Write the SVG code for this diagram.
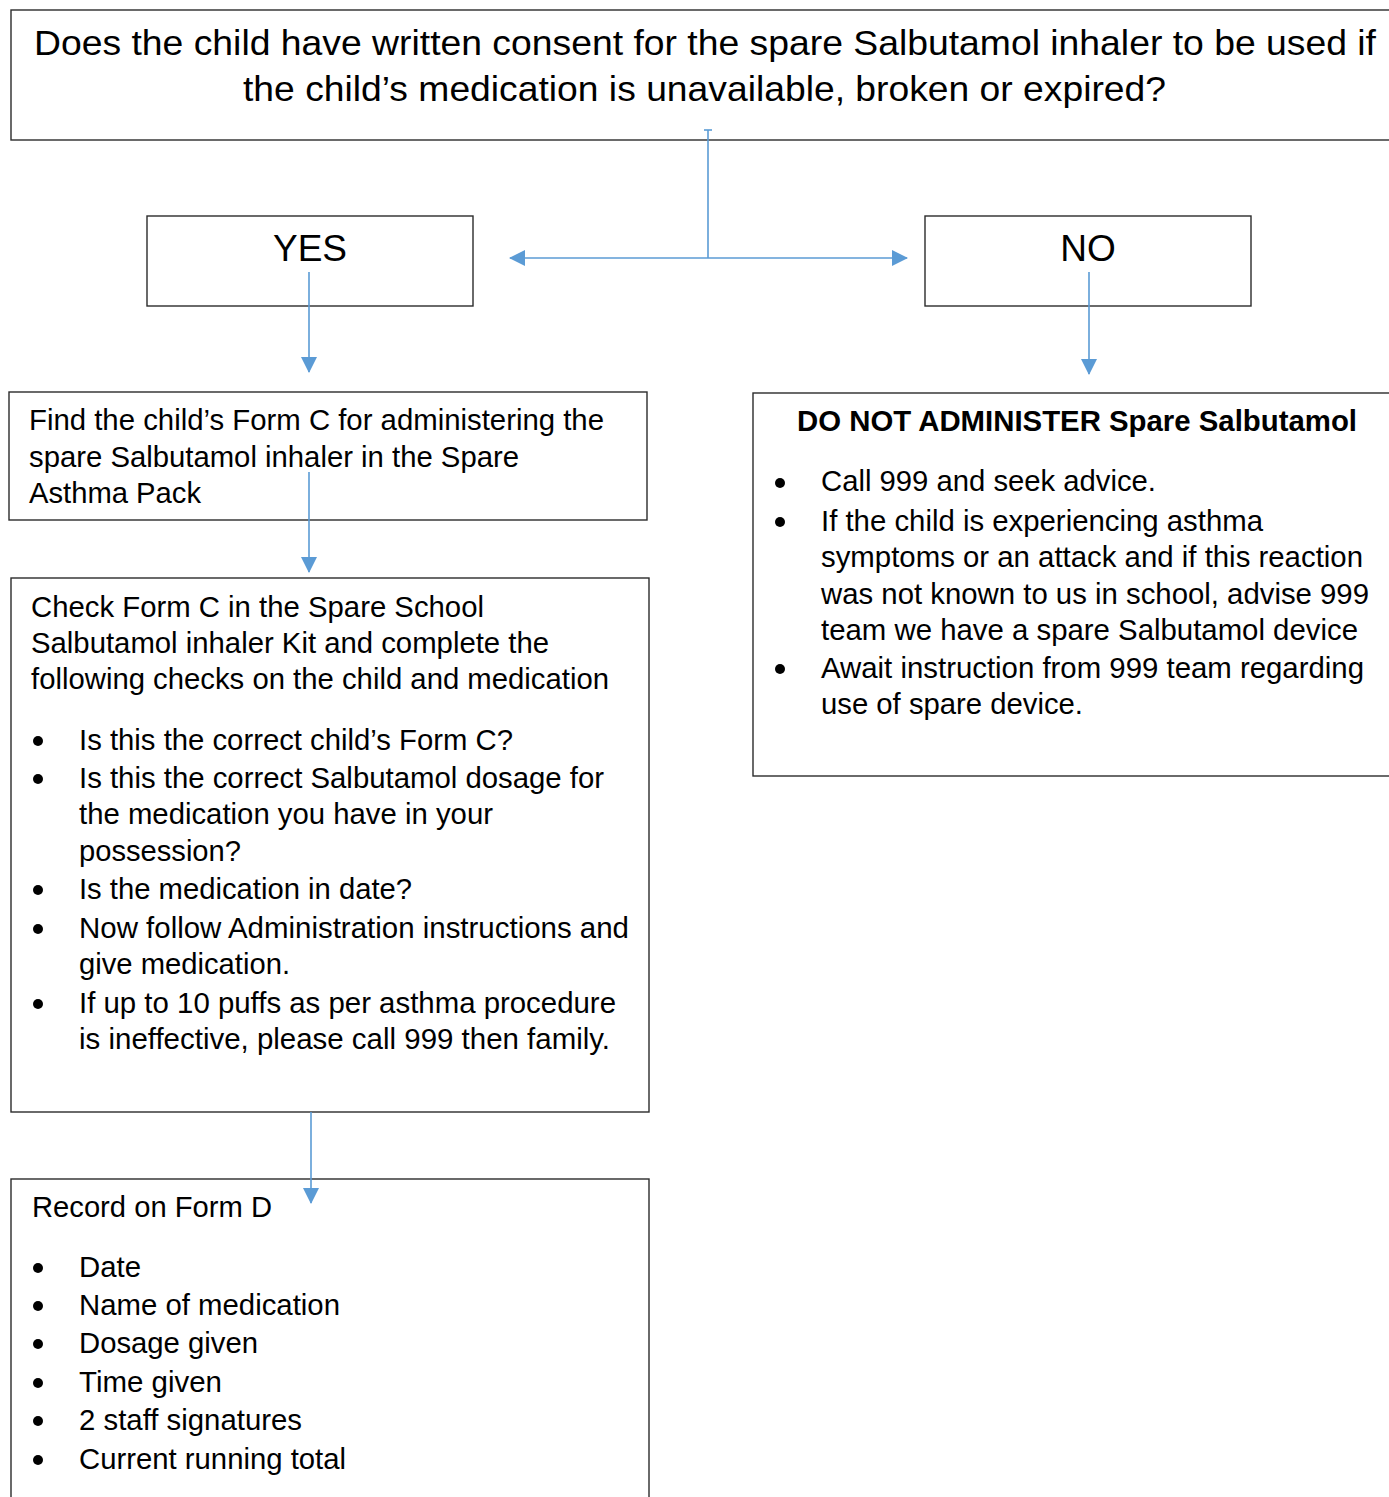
<svg xmlns="http://www.w3.org/2000/svg" width="1389" height="1497" viewBox="0 0 1389 1497">
<style>
.box{fill:#fff;stroke:#2b2b2b;stroke-width:1.4}
.t{font-family:"Liberation Sans",Arial,sans-serif;fill:#000;font-size:29px}
.big{font-size:35px}
.yn{font-size:37px}
.b{font-weight:bold}
.dot{fill:#000}
.con{stroke:#5B9BD5;stroke-width:1.6;fill:none}
</style>
<defs>
<marker id="ah" markerUnits="userSpaceOnUse" markerWidth="16" markerHeight="16" viewBox="0 0 16 16" refX="15" refY="8" orient="auto">
<path d="M0,0 L16,8 L0,16 Z" fill="#5B9BD5"/>
</marker>
</defs>
<rect width="1389" height="1497" fill="#fff"/>

<g id="question">
<rect class="box" x="11" y="10" width="1400" height="130"/>
<text class="t big" x="34" y="55" textLength="1342" lengthAdjust="spacingAndGlyphs">Does the child have written consent for the spare Salbutamol inhaler to be used if</text>
<text class="t big" x="243" y="101" textLength="923" lengthAdjust="spacingAndGlyphs">the child’s medication is unavailable, broken or expired?</text>
</g>

<g id="yes">
<rect class="box" x="147" y="216" width="326" height="90"/>
<text class="t yn" x="310" y="261" text-anchor="middle">YES</text>
</g>

<g id="no">
<rect class="box" x="925" y="216" width="326" height="90"/>
<text class="t yn" x="1088" y="261" text-anchor="middle">NO</text>
</g>

<g id="find">
<rect class="box" x="9" y="392" width="638" height="128"/>
<text class="t" x="29" y="430" textLength="575" lengthAdjust="spacingAndGlyphs">Find the child’s Form C for administering the</text>
<text class="t" x="29" y="467" textLength="490" lengthAdjust="spacingAndGlyphs">spare Salbutamol inhaler in the Spare</text>
<text class="t" x="29" y="503" textLength="172" lengthAdjust="spacingAndGlyphs">Asthma Pack</text>
</g>

<g id="check">
<rect class="box" x="11" y="578" width="638" height="534"/>
<text class="t" x="31" y="617" textLength="453" lengthAdjust="spacingAndGlyphs">Check Form C in the Spare School</text>
<text class="t" x="31" y="653" textLength="518" lengthAdjust="spacingAndGlyphs">Salbutamol inhaler Kit and complete the</text>
<text class="t" x="31" y="689" textLength="578" lengthAdjust="spacingAndGlyphs">following checks on the child and medication</text>
<circle class="dot" cx="38" cy="741" r="5"/>
<text class="t" x="79" y="750" textLength="434" lengthAdjust="spacingAndGlyphs">Is this the correct child’s Form C?</text>
<circle class="dot" cx="38" cy="779" r="5"/>
<text class="t" x="79" y="788" textLength="525" lengthAdjust="spacingAndGlyphs">Is this the correct Salbutamol dosage for</text>
<text class="t" x="79" y="824" textLength="414" lengthAdjust="spacingAndGlyphs">the medication you have in your</text>
<text class="t" x="79" y="861" textLength="162" lengthAdjust="spacingAndGlyphs">possession?</text>
<circle class="dot" cx="38" cy="890" r="5"/>
<text class="t" x="79" y="899" textLength="333" lengthAdjust="spacingAndGlyphs">Is the medication in date?</text>
<circle class="dot" cx="38" cy="929" r="5"/>
<text class="t" x="79" y="938" textLength="550" lengthAdjust="spacingAndGlyphs">Now follow Administration instructions and</text>
<text class="t" x="79" y="974" textLength="211" lengthAdjust="spacingAndGlyphs">give medication.</text>
<circle class="dot" cx="38" cy="1004" r="5"/>
<text class="t" x="79" y="1013" textLength="537" lengthAdjust="spacingAndGlyphs">If up to 10 puffs as per asthma procedure</text>
<text class="t" x="79" y="1049" textLength="531" lengthAdjust="spacingAndGlyphs">is ineffective, please call 999 then family.</text>
</g>

<g id="record">
<rect class="box" x="11" y="1179" width="638" height="340"/>
<text class="t" x="32" y="1217" textLength="240" lengthAdjust="spacingAndGlyphs">Record on Form D</text>
<circle class="dot" cx="38" cy="1268" r="5"/>
<text class="t" x="79" y="1277" textLength="62" lengthAdjust="spacingAndGlyphs">Date</text>
<circle class="dot" cx="38" cy="1306" r="5"/>
<text class="t" x="79" y="1315" textLength="261" lengthAdjust="spacingAndGlyphs">Name of medication</text>
<circle class="dot" cx="38" cy="1344" r="5"/>
<text class="t" x="79" y="1353" textLength="179" lengthAdjust="spacingAndGlyphs">Dosage given</text>
<circle class="dot" cx="38" cy="1383" r="5"/>
<text class="t" x="79" y="1392" textLength="143" lengthAdjust="spacingAndGlyphs">Time given</text>
<circle class="dot" cx="38" cy="1421" r="5"/>
<text class="t" x="79" y="1430" textLength="223" lengthAdjust="spacingAndGlyphs">2 staff signatures</text>
<circle class="dot" cx="38" cy="1460" r="5"/>
<text class="t" x="79" y="1469" textLength="267" lengthAdjust="spacingAndGlyphs">Current running total</text>
</g>

<g id="donot">
<rect class="box" x="753" y="393" width="660" height="383"/>
<text class="t b" x="797" y="431" textLength="560" lengthAdjust="spacingAndGlyphs">DO NOT ADMINISTER Spare Salbutamol</text>
<circle class="dot" cx="780" cy="483" r="5"/>
<text class="t" x="821" y="491" textLength="335" lengthAdjust="spacingAndGlyphs">Call 999 and seek advice.</text>
<circle class="dot" cx="780" cy="522" r="5"/>
<text class="t" x="821" y="531" textLength="442" lengthAdjust="spacingAndGlyphs">If the child is experiencing asthma</text>
<text class="t" x="821" y="567" textLength="542" lengthAdjust="spacingAndGlyphs">symptoms or an attack and if this reaction</text>
<text class="t" x="821" y="604" textLength="548" lengthAdjust="spacingAndGlyphs">was not known to us in school, advise 999</text>
<text class="t" x="821" y="640" textLength="537" lengthAdjust="spacingAndGlyphs">team we have a spare Salbutamol device</text>
<circle class="dot" cx="780" cy="669" r="5"/>
<text class="t" x="821" y="678" textLength="543" lengthAdjust="spacingAndGlyphs">Await instruction from 999 team regarding</text>
<text class="t" x="821" y="714" textLength="262" lengthAdjust="spacingAndGlyphs">use of spare device.</text>
</g>

<g id="connectors">
<line class="con" x1="704" y1="130" x2="712" y2="130"/>
<line class="con" x1="708" y1="130" x2="708" y2="258"/>
<line class="con" x1="708" y1="258" x2="510" y2="258" marker-end="url(#ah)"/>
<line class="con" x1="708" y1="258" x2="907" y2="258" marker-end="url(#ah)"/>
<line class="con" x1="309" y1="272" x2="309" y2="372" marker-end="url(#ah)"/>
<line class="con" x1="1089" y1="272" x2="1089" y2="374" marker-end="url(#ah)"/>
<line class="con" x1="309" y1="472" x2="309" y2="572" marker-end="url(#ah)"/>
<line class="con" x1="311" y1="1112" x2="311" y2="1203" marker-end="url(#ah)"/>
</g>
</svg>
